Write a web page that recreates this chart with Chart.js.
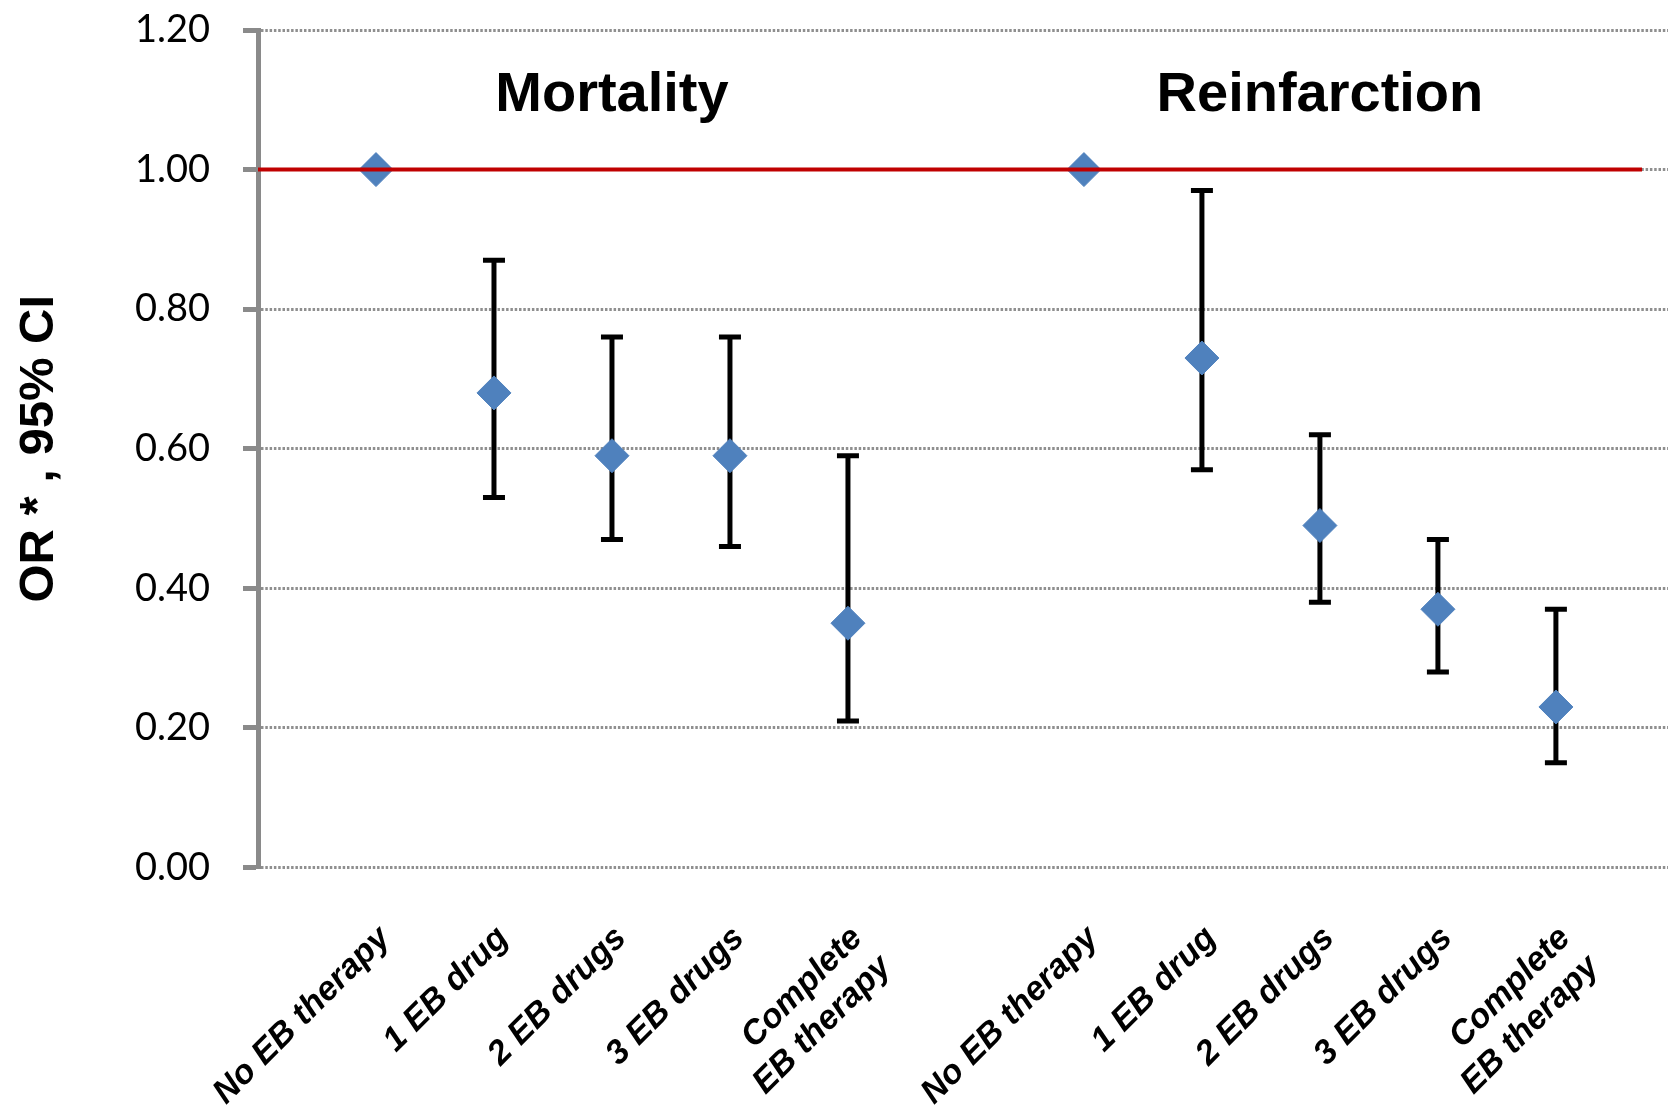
<!DOCTYPE html>
<html>
<head>
<meta charset="utf-8">
<script src="https://cdn.jsdelivr.net/npm/chart.js@4.4.0/dist/chart.umd.min.js"></script>
<style>
  html, body { margin: 0; padding: 0; background: #fff; }
  #wrap { width: 1669px; height: 1111px; position: relative; }
</style>
</head>
<body>
<div id="wrap"><canvas id="orChart"></canvas></div>
<script>
// ==========================
// データ
// ==========================
const categories = ["No EB therapy", "1 EB drug", "2 EB drugs", "3 EB drugs", ["Complete", "EB therapy"]];
const panelTitles = ["Mortality", "Reinfarction"];

// x positions on the axis (gap at 6 between the two panels)
const mortalityX = [1, 2, 3, 4, 5];
const reinfX = [7, 8, 9, 10, 11];

const mortalityOR = [1.00, 0.68, 0.59, 0.59, 0.35];
const mortalityLo = [null, 0.53, 0.47, 0.46, 0.21];
const mortalityHi = [null, 0.87, 0.76, 0.76, 0.59];

const reinfOR = [1.00, 0.73, 0.49, 0.37, 0.23];
const reinfLo = [null, 0.57, 0.38, 0.28, 0.15];
const reinfHi = [null, 0.97, 0.62, 0.47, 0.37];

const yTicks = [0, 0.2, 0.4, 0.6, 0.8, 1.0, 1.2];
const refLineX = [0, 11.73];
const refLineY = [1, 1];

// ==========================
// データ整形
// ==========================
function toPoints(xs, ys) {
  return xs.map((x, i) => ({ x, y: ys[i] }));
}

function errorBarPoints(xs, lo, hi) {
  const pts = [];
  xs.forEach((x, i) => {
    if (lo[i] == null) return;
    pts.push({ x, y: lo[i] }, { x, y: hi[i] }, { x, y: null });
  });
  return pts;
}

const tickPositions = mortalityX.concat(reinfX);
const tickLabels = categories.concat(categories);

// panel titles drawn at the centre of each group
const titlePlugin = {
  id: "panelTitles",
  afterDatasetsDraw(chart) {
    const { ctx, scales } = chart;
    const groups = [mortalityX, reinfX];
    ctx.save();
    ctx.font = 'bold 56px "Liberation Sans", Arial, sans-serif';
    ctx.fillStyle = "#000";
    ctx.textAlign = "center";
    ctx.textBaseline = "alphabetic";
    groups.forEach((g, i) => {
      const mid = g.reduce((a, b) => a + b, 0) / g.length;
      ctx.fillText(panelTitles[i], scales.x.getPixelForValue(mid), scales.y.getPixelForValue(1.084));
    });
    ctx.restore();
  }
};

// ==========================
// グラフ表示
// ==========================
const ctx = document.getElementById("orChart").getContext("2d");
new Chart(ctx, {
  type: "scatter",
  data: {
    datasets: [
      {
        type: "line",
        label: "ref",
        data: toPoints(refLineX, refLineY),
        borderColor: "#C00000",
        borderWidth: 4,
        pointRadius: 0,
        order: 0
      },
      {
        label: "Mortality",
        data: toPoints(mortalityX, mortalityOR),
        pointStyle: "rectRot",
        pointRadius: 17,
        backgroundColor: "#4F81BD",
        borderColor: "#4F81BD",
        borderWidth: 1,
        order: 1
      },
      {
        label: "Reinfarction",
        data: toPoints(reinfX, reinfOR),
        pointStyle: "rectRot",
        pointRadius: 17,
        backgroundColor: "#4F81BD",
        borderColor: "#4F81BD",
        borderWidth: 1,
        order: 1
      },
      {
        type: "line",
        label: "CI",
        data: errorBarPoints(mortalityX, mortalityLo, mortalityHi)
          .concat(errorBarPoints(reinfX, reinfLo, reinfHi)),
        borderColor: "#000",
        borderWidth: 5,
        spanGaps: false,
        pointStyle: "line",
        pointRadius: 11,
        pointBorderWidth: 5,
        pointBorderColor: "#000",
        order: 2
      }
    ]
  },
  options: {
    responsive: true,
    maintainAspectRatio: false,
    animation: false,
    layout: { autoPadding: false, padding: { top: 30, right: 1, left: 0, bottom: 0 } },
    plugins: {
      legend: { display: false },
      tooltip: { enabled: false }
    },
    scales: {
      x: {
        type: "linear",
        min: 0,
        max: 11.95,
        grid: { display: false, drawTicks: false },
        border: { display: false },
        afterBuildTicks: scale => {
          scale.ticks = tickPositions.map(v => ({ value: v }));
        },
        afterFit: scale => {
          scale.height = 243.5;
          scale.paddingRight = 0;
        },
        ticks: {
          autoSkip: false,
          minRotation: 45,
          maxRotation: 45,
          padding: 51,
          labelOffset: 9,
          color: "#000",
          font: { family: '"Liberation Sans", Arial, sans-serif', size: 34, weight: "bold", style: "italic" },
          callback: value => {
            const i = tickPositions.indexOf(value);
            return i >= 0 ? tickLabels[i] : "";
          }
        }
      },
      y: {
        min: 0,
        max: 1.2,
        afterBuildTicks: scale => {
          scale.ticks = yTicks.map(v => ({ value: v }));
        },
        afterFit: scale => {
          scale.width = 258;
          scale.paddingTop = 0;
          scale.paddingBottom = 0;
        },
        grid: {
          color: "#8f8f8f",
          lineWidth: 3,
          tickColor: "#8a8a8a",
          tickWidth: 5,
          tickLength: 15,
          tickBorderDash: [1, 0]
        },
        border: { display: true, color: "#8a8a8a", width: 5, dash: [2.5, 1.8] },
        ticks: {
          padding: 33,
          color: "#000",
          font: { family: "Lato, sans-serif", size: 38 },
          callback: v => Number(v).toFixed(2)
        },
        title: {
          display: true,
          text: "OR * , 95% CI",
          color: "#000",
          padding: { top: 10, bottom: 0 },
          font: { family: '"Liberation Sans", Arial, sans-serif', size: 49, weight: "bold" }
        }
      }
    }
  },
  plugins: [titlePlugin]
});
</script>
</body>
</html>
